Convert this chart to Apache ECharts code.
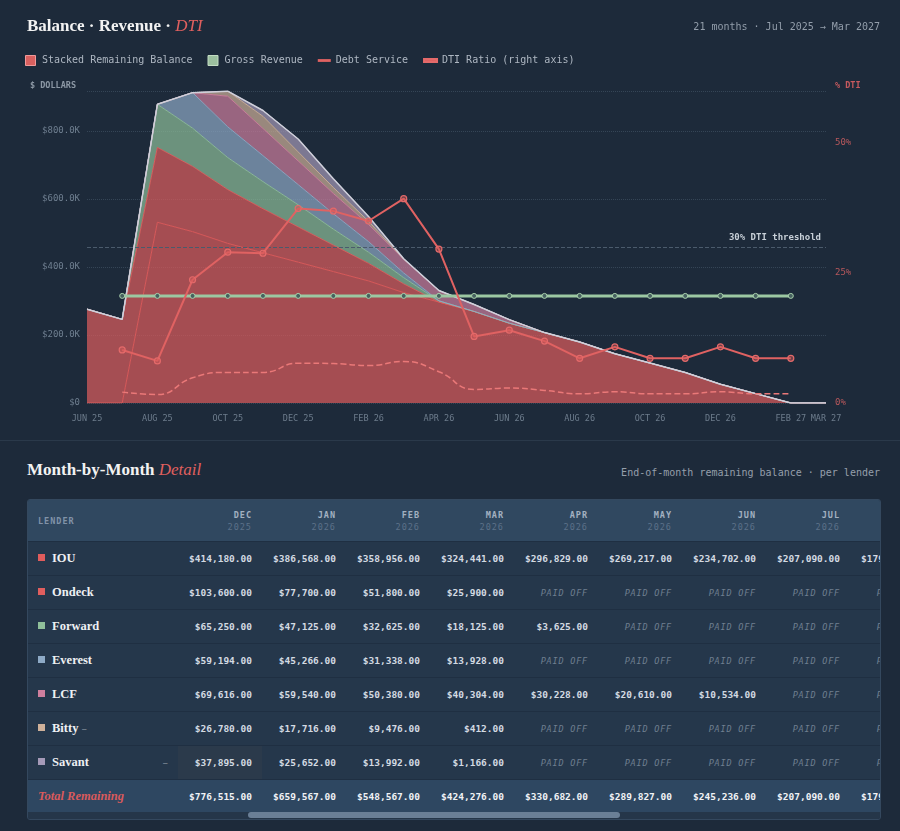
<!DOCTYPE html>
<html>
<head>
<meta charset="utf-8">
<script src="https://cdn.jsdelivr.net/npm/echarts@6/dist/echarts.min.js"></script>
<style>
  body { margin: 0; background: #1d2a3a; width: 900px; height: 831px; overflow: hidden; position: relative; }
  #chart { position: absolute; left: 0; top: 0; width: 900px; height: 440px; }
  #sep { position: absolute; left: 0; top: 440px; width: 900px; height: 1px; background: #2a394a; }
  .h2 { position: absolute; left: 27px; top: 460px; font: bold 17px "Liberation Serif", serif; color: #f2f2f2; }
  .h2 i { font-weight: normal; color: #e0605f; }
  .sub { position: absolute; right: 20px; top: 467px; font: 10px "DejaVu Sans Mono", monospace; color: #959fab; }
  #tw { position: absolute; left: 27px; top: 499px; width: 852px; height: 319px; border: 1px solid #34485e; border-radius: 3px; overflow: hidden; background: #25374b; }
  table { border-collapse: separate; border-spacing: 0; table-layout: fixed; width: 906px; }
  th, td { padding: 0 10px 0 0; text-align: right; white-space: nowrap; overflow: hidden; }
  thead th { height: 41px; background: #304860; font: bold 8.5px "DejaVu Sans Mono", monospace; color: #a3b1c1; letter-spacing: 1px; line-height: 12px; }
  thead th .yr { font-weight: normal; color: #5c7189; }
  thead th.l { text-align: left; padding-left: 10px; color: #8193a8; }
  tbody td { height: 33px; border-top: 1px solid #1f2f42; font: bold 9.5px "DejaVu Sans Mono", monospace; color: #d3dae2; }
  td.l { text-align: left; padding-left: 10px; position: relative; }
  .sq { display: inline-block; width: 7px; height: 7px; margin-right: 7px; vertical-align: 1px; }
  .nm { font: bold 12.5px "Liberation Serif", serif; color: #eef0f3; }
  .dash { font: 11px "DejaVu Sans", sans-serif; color: #7c8996; margin-left: 3px; }
  .rdash { position: absolute; right: 10px; top: 10px; font: 11px "DejaVu Sans", sans-serif; color: #7c8996; }
  .off { font: italic 8.5px "DejaVu Sans Mono", monospace; color: #6f7f90; letter-spacing: 0.8px; }
  td.hov { background: #2b3a4b; }
  tr.tot td { background: #2e4761; color: #f0f2f5; }
  tr.tot td.l { font: italic bold 12.5px "Liberation Serif", serif; color: #d95a5c; }
  #sb { position: absolute; left: 0; top: 312px; width: 852px; height: 7px; background: #253649; }
  #thumb { position: absolute; left: 220px; top: 0; width: 372px; height: 6px; border-radius: 3px; background: #6a7f96; }
</style>
</head>
<body>
<div id="chart"></div>
<div id="sep"></div>
<div class="h2">Month-by-Month <i>Detail</i></div>
<div class="sub">End-of-month remaining balance · per lender</div>
<div id="tw"><table id="tbl"></table><div id="sb"><div id="thumb"></div></div></div>
<script>
// months on the x axis (Jun 2025 .. Mar 2027)
var months = ['JUN 25', 'JUL 25', 'AUG 25', 'SEP 25', 'OCT 25', 'NOV 25', 'DEC 25', 'JAN 26', 'FEB 26', 'MAR 26', 'APR 26',
  'MAY 26', 'JUN 26', 'JUL 26', 'AUG 26', 'SEP 26', 'OCT 26', 'NOV 26', 'DEC 26', 'JAN 27', 'FEB 27', 'MAR 27'];

// remaining balance per lender, end of month
var iou     = [0, 0, 531531, 503919, 469404, 441792, 414180, 386568, 358956, 324441, 296829, 269217, 234702, 207090, 179478, 144963, 117351, 89739, 55224, 27612, 0, 0];
var ondeck  = [276000, 246000, 220000, 192000, 158000, 129500, 103600, 77700, 51800, 25900, 0, 0, 0, 0, 0, 0, 0, 0, 0, 0, 0, 0];
var forward = [0, 0, 126875, 112375, 94250, 79750, 65250, 47125, 32625, 18125, 3625, 0, 0, 0, 0, 0, 0, 0, 0, 0, 0, 0];
var everest = [0, 0, 0, 104460, 90532, 76604, 59194, 45266, 31338, 13928, 0, 0, 0, 0, 0, 0, 0, 0, 0, 0, 0, 0];
var lcf     = [0, 0, 0, 0, 90000, 79692, 69616, 59540, 50380, 40304, 30228, 20610, 10534, 0, 0, 0, 0, 0, 0, 0, 0, 0];
var bitty   = [0, 0, 0, 0, 15000, 36000, 26780, 17716, 9476, 412, 0, 0, 0, 0, 0, 0, 0, 0, 0, 0, 0, 0];
var savant  = [0, 0, 0, 0, 0, 17000, 37895, 25652, 13992, 1166, 0, 0, 0, 0, 0, 0, 0, 0, 0, 0, 0, 0];

var lenderNames = ['IOU', 'Ondeck', 'Forward', 'Everest', 'LCF', 'Bitty', 'Savant'];
var lenderData = [iou, ondeck, forward, everest, lcf, bitty, savant];
var lenderColors = ['#e05c5c', '#e05e5e', '#8fbf9a', '#8eaac6', '#cf7f9e', '#cfb19a', '#a59ab8'];

var grossRevenue = [null, 315000, 315000, 315000, 315000, 315000, 315000, 315000, 315000, 315000, 315000,
  315000, 315000, 315000, 315000, 315000, 315000, 315000, 315000, 315000, 315000, null];
var debtService = [null, 32000, 25000, 74000, 90000, 90000, 117000, 116000, 110000, 122000, 92000,
  40000, 44000, 37000, 27000, 33000, 27000, 27000, 33000, 27000, 27000, null];
var dtiRatio = [null, 10.2, 8.1, 23.7, 29.0, 28.8, 37.4, 36.9, 35.0, 39.3, 29.6,
  12.8, 14.0, 11.9, 8.6, 10.8, 8.6, 8.6, 10.8, 8.6, 8.6, null];
var dtiThreshold = 30;

// table is scrolled: DEC 25 .. AUG 26 are in view
var tableFirst = 6, tableLast = 14;

var MONO = '"DejaVu Sans Mono", monospace';

var totals = months.map(function (m, i) {
  var s = 0;
  lenderData.forEach(function (d) { s += d[i]; });
  return s;
});

var series = [];
lenderNames.forEach(function (name, k) {
  series.push({
    name: name,
    type: 'line',
    stack: 'balance',
    data: lenderData[k],
    symbol: 'none',
    lineStyle: { width: 1, color: lenderColors[k], opacity: 0.9 },
    itemStyle: { color: lenderColors[k] },
    areaStyle: { color: lenderColors[k], opacity: 0.7 },
    emphasis: { disabled: true },
    z: 1
  });
});
series.push({
  name: 'total', type: 'line', data: totals, symbol: 'none',
  lineStyle: { width: 1.5, color: '#cfd0da' }, emphasis: { disabled: true }, z: 3
});
series.push({ name: 'Stacked Remaining Balance', type: 'line', data: [], itemStyle: { color: '#d9605f' } });
series.push({
  name: 'Gross Revenue', type: 'line', data: grossRevenue,
  symbol: 'circle', symbolSize: 5,
  lineStyle: { width: 3, color: '#9cc8a2' },
  itemStyle: { color: '#46615f', borderColor: '#a8d0ac', borderWidth: 1 },
  emphasis: { disabled: true }, z: 5
});
series.push({
  name: 'Debt Service', type: 'line', data: debtService, smooth: true, symbol: 'none',
  lineStyle: { width: 1.5, color: '#ea7878', type: 'dashed' },
  itemStyle: { color: '#e06262' },
  emphasis: { disabled: true }, z: 4
});
series.push({
  name: 'DTI Ratio (right axis)', type: 'line', yAxisIndex: 1, data: dtiRatio,
  symbol: 'circle', symbolSize: 6,
  lineStyle: { width: 2, color: '#e06262' },
  itemStyle: { color: 'rgba(214,92,92,0.45)', borderColor: '#e46a6a', borderWidth: 1.2 },
  emphasis: { disabled: true }, z: 6,
  markLine: {
    silent: true, symbol: 'none',
    data: [{ yAxis: dtiThreshold }],
    lineStyle: { type: 'dashed', color: '#4b5b6c', width: 1 },
    label: { formatter: '30% DTI threshold', position: 'insideEndTop', color: '#c8d0d8', fontFamily: MONO, fontSize: 9, fontWeight: 'bold' }
  }
});

var square = 'path://M0,0 L10,0 L10,10 L0,10 Z';
var dash = 'path://M0,0 L12,0 L12,2.6 L0,2.6 Z';

var chart = echarts.init(document.getElementById('chart'));
chart.setOption({
  animation: false,
  backgroundColor: 'transparent',
  title: [{
    left: 27, top: 18, padding: 0,
    text: 'Balance · Revenue · {r|DTI}',
    textStyle: {
      fontFamily: 'Liberation Serif', fontSize: 17, fontWeight: 'bold', color: '#f2f2f2',
      rich: { r: { fontFamily: 'Liberation Serif', fontSize: 17, fontStyle: 'italic', fontWeight: 'normal', color: '#e0605f' } }
    }
  }, {
    right: 20, top: 22, padding: 0,
    text: '21 months · Jul 2025 → Mar 2027',
    textStyle: { fontFamily: MONO, fontSize: 10, fontWeight: 'normal', color: '#939eab' }
  }],
  legend: {
    left: 25, top: 55, padding: 0, itemWidth: 13, itemHeight: 10, itemGap: 15, selectedMode: false,
    textStyle: { color: '#aeb7c2', fontFamily: MONO, fontSize: 10 },
    data: [
      { name: 'Stacked Remaining Balance', icon: square, itemStyle: { color: '#d9605f', borderColor: '#f09a9a', borderWidth: 1 } },
      { name: 'Gross Revenue', icon: square, itemStyle: { color: '#9bbf9e', borderColor: '#c3dcc3', borderWidth: 1 } },
      { name: 'Debt Service', icon: dash, itemStyle: { color: '#e06262' } },
      { name: 'DTI Ratio (right axis)', icon: dash, itemStyle: { color: '#e06262' } }
    ]
  },
  graphic: [
    { type: 'text', left: 30, top: 81, style: { text: '$ DOLLARS', fill: '#8c98a5', font: 'bold 8.5px "DejaVu Sans Mono"' } },
    { type: 'text', left: 835, top: 81, style: { text: '% DTI', fill: '#c75a5e', font: 'bold 8.5px "DejaVu Sans Mono"' } }
  ],
  grid: { left: 87, right: 74, top: 91, bottom: 37 },
  xAxis: {
    type: 'category', data: months, boundaryGap: false,
    axisLine: { show: false }, axisTick: { show: false },
    axisLabel: {
      color: '#6d7c8c', fontFamily: MONO, fontSize: 8.5, margin: 11,
      interval: function (i) { return i % 2 === 0 || i === months.length - 1; }
    }
  },
  yAxis: [{
    type: 'value', min: 0, max: 917600, interval: 200000,
    axisLine: { show: false }, axisTick: { show: false },
    axisLabel: {
      color: '#6f7f90', fontFamily: MONO, fontSize: 9, margin: 7, showMaxLabel: false,
      formatter: function (v) { return v === 0 ? '$0' : '$' + (v / 1000).toFixed(1) + 'K'; }
    },
    splitLine: { lineStyle: { type: 'dotted', color: 'rgba(120,140,160,0.28)' } }
  }, {
    type: 'value', min: 0, max: 60, interval: 25, position: 'right',
    axisLine: { show: false }, axisTick: { show: false },
    axisLabel: { color: '#b9585c', fontFamily: MONO, fontSize: 9, margin: 9, showMaxLabel: false, formatter: '{value}%' },
    splitLine: { show: false }
  }],
  series: series
});

// month-by-month table
function fmt(v) {
  return '$' + v.toLocaleString('en-US', { minimumFractionDigits: 2, maximumFractionDigits: 2 });
}
var html = '<colgroup><col style="width:150px">';
for (var i = tableFirst; i <= tableLast; i++) html += '<col style="width:84px">';
html += '</colgroup><thead><tr><th class="l">LENDER</th>';
for (var i = tableFirst; i <= tableLast; i++) {
  var p = months[i].split(' ');
  html += '<th>' + p[0] + '<br><span class="yr">20' + p[1] + '</span></th>';
}
html += '</tr></thead><tbody>';
lenderNames.forEach(function (name, k) {
  html += '<tr><td class="l"><span class="sq" style="background:' + lenderColors[k] + '"></span><span class="nm">' + name + '</span>';
  if (name === 'Bitty') html += '<span class="dash">–</span>';
  if (name === 'Savant') html += '<span class="rdash">–</span>';
  html += '</td>';
  for (var i = tableFirst; i <= tableLast; i++) {
    var v = lenderData[k][i];
    var cls = (name === 'Savant' && i === tableFirst) ? ' class="hov"' : '';
    html += '<td' + cls + '>' + (v > 0 ? fmt(v) : '<span class="off">PAID OFF</span>') + '</td>';
  }
  html += '</tr>';
});
html += '<tr class="tot"><td class="l">Total Remaining</td>';
for (var i = tableFirst; i <= tableLast; i++) html += '<td>' + fmt(totals[i]) + '</td>';
html += '</tr></tbody>';
document.getElementById('tbl').innerHTML = html;
</script>
</body>
</html>
